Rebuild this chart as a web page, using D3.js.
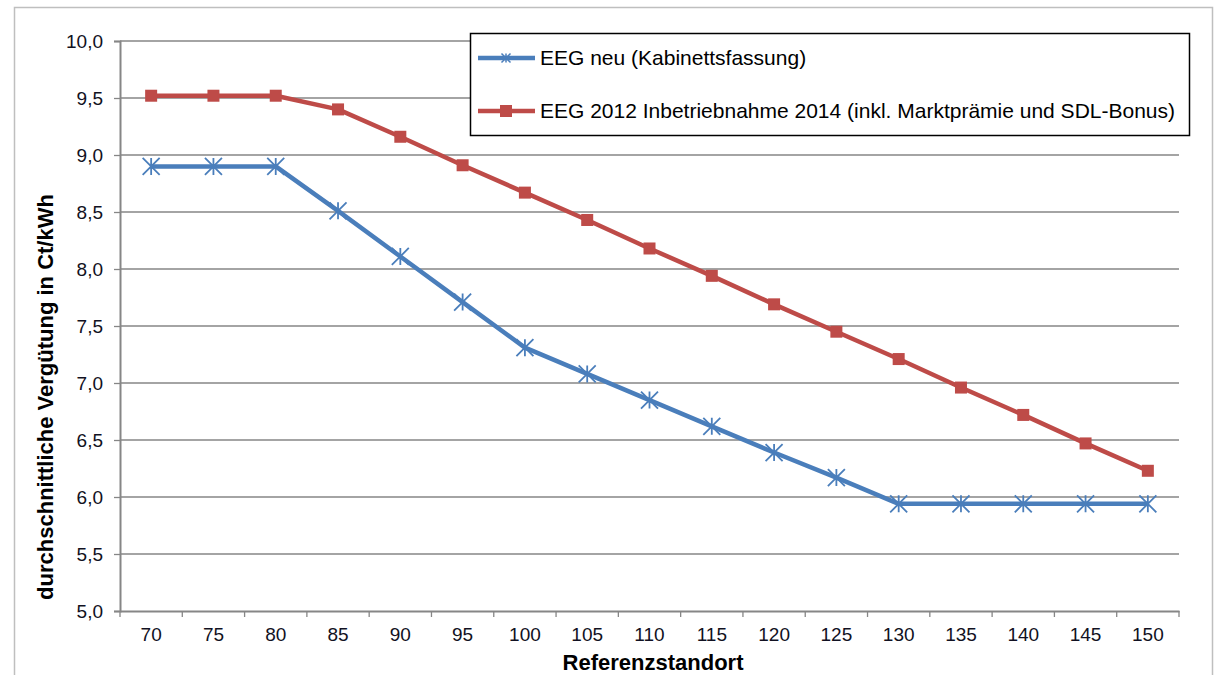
<!DOCTYPE html>
<html><head><meta charset="utf-8">
<script src="https://cdn.jsdelivr.net/npm/d3@7"></script>
<style>body{margin:0;background:#fff;}svg{display:block;font-family:"Liberation Sans",Arial,sans-serif;}</style>
</head><body>
<svg id="c" width="1219" height="675"></svg>
<script>
const categories = [70,75,80,85,90,95,100,105,110,115,120,125,130,135,140,145,150];
const eegNeu = [8.90,8.90,8.90,8.51,8.11,7.71,7.31,7.08,6.85,6.62,6.39,6.17,5.94,5.94,5.94,5.94,5.94];
const eeg2012 = [9.52,9.52,9.52,9.40,9.16,8.91,8.67,8.43,8.18,7.94,7.69,7.45,7.21,6.96,6.72,6.47,6.23];
const yTicks = [5.0,5.5,6.0,6.5,7.0,7.5,8.0,8.5,9.0,9.5,10.0];
const seriesNames = ["EEG neu (Kabinettsfassung)","EEG 2012 Inbetriebnahme 2014 (inkl. Marktprämie und SDL-Bonus)"];

const svg = d3.select("#c");
const L=120, R=1179, T=41, B=611;
const blue="#4A7EBB", red="#BE4B48", axisCol="#868686", txt="#111122";

svg.append("rect").attr("x",14.5).attr("y",7.5).attr("width",1198).attr("height",700)
  .attr("fill","none").attr("stroke","#bfbfbf").attr("stroke-width",1.5);

const x = d3.scaleBand().domain(categories).range([L,R]);
const y = d3.scaleLinear().domain([5,10]).range([B,T]);
const fmt = d => d.toFixed(1).replace(".",",");

// gridlines
svg.append("g").selectAll("line").data(yTicks.filter(d=>d>5)).join("line")
  .attr("x1",L).attr("x2",R).attr("y1",d=>y(d)).attr("y2",d=>y(d))
  .attr("stroke",axisCol).attr("stroke-width",1.3);

// y axis
const ya = svg.append("g").attr("transform",`translate(${L},0)`)
  .call(d3.axisLeft(y).tickValues(yTicks).tickFormat(fmt).tickSize(6).tickPadding(11));
ya.select(".domain").attr("stroke",axisCol).attr("stroke-width",2);
ya.selectAll(".tick line").attr("stroke",axisCol).attr("stroke-width",1.3);
ya.selectAll("text").attr("font-size",19).attr("fill",txt).attr("font-family","Liberation Sans, Arial, sans-serif");

// x axis
const xa = svg.append("g").attr("transform",`translate(0,${B})`)
  .call(d3.axisBottom(x).tickSize(0).tickPadding(17));
xa.select(".domain").attr("stroke",axisCol).attr("stroke-width",2);
xa.selectAll("text").attr("font-size",19).attr("fill",txt).attr("font-family","Liberation Sans, Arial, sans-serif");
const bounds = categories.map(c=>x(c)).concat([R]);
xa.append("g").selectAll("line").data(bounds).join("line")
  .attr("x1",d=>d).attr("x2",d=>d).attr("y1",0).attr("y2",6)
  .attr("stroke",axisCol).attr("stroke-width",1.3);

// titles
svg.append("text").attr("x",653).attr("y",670).attr("text-anchor","middle")
  .attr("font-size",22).attr("font-weight","bold").attr("fill","#000").text("Referenzstandort");
svg.append("text").attr("transform",`translate(53,397) rotate(-90)`).attr("text-anchor","middle")
  .attr("font-size",22).attr("font-weight","bold").attr("fill","#000").text("durchschnittliche Vergütung in Ct/kWh");

const cx = c => x(c)+x.bandwidth()/2;
const line = d3.line().x((d,i)=>cx(categories[i])).y(d=>y(d));

function star(g, px, py, s, col, w){
  const a = s/2;
  g.append("path").attr("d",`M${px-a},${py-a}L${px+a},${py+a}M${px-a},${py+a}L${px+a},${py-a}M${px},${py-a}L${px},${py+a}`)
    .attr("stroke",col).attr("stroke-width",w||1.8).attr("fill","none");
}

// red series
svg.append("path").datum(eeg2012).attr("d",line).attr("fill","none").attr("stroke",red).attr("stroke-width",4.5).attr("stroke-linejoin","round");
svg.append("g").selectAll("rect").data(eeg2012).join("rect")
  .attr("x",(d,i)=>cx(categories[i])-6).attr("y",d=>y(d)-6).attr("width",12).attr("height",12).attr("fill",red);

// blue series
svg.append("path").datum(eegNeu).attr("d",line).attr("fill","none").attr("stroke",blue).attr("stroke-width",4.5).attr("stroke-linejoin","round");
const bm = svg.append("g");
eegNeu.forEach((d,i)=>star(bm, cx(categories[i]), y(d), 17, blue));

// legend
const lg = svg.append("g");
lg.append("rect").attr("x",470.5).attr("y",33.5).attr("width",719).attr("height",102)
  .attr("fill","#fff").attr("stroke","#000").attr("stroke-width",1.5);
const ly = [58,111];
[blue,red].forEach((col,i)=>{
  lg.append("line").attr("x1",478).attr("x2",535).attr("y1",ly[i]).attr("y2",ly[i]).attr("stroke",col).attr("stroke-width",4.5);
  if(i===0) star(lg,506,ly[i],9,col,1.5);
  else lg.append("rect").attr("x",500).attr("y",ly[i]-6).attr("width",12).attr("height",12).attr("fill",col);
  lg.append("text").attr("x",540).attr("y",ly[i]+7).attr("font-size",21).attr("fill","#000").text(seriesNames[i]);
});
</script>
</body></html>
